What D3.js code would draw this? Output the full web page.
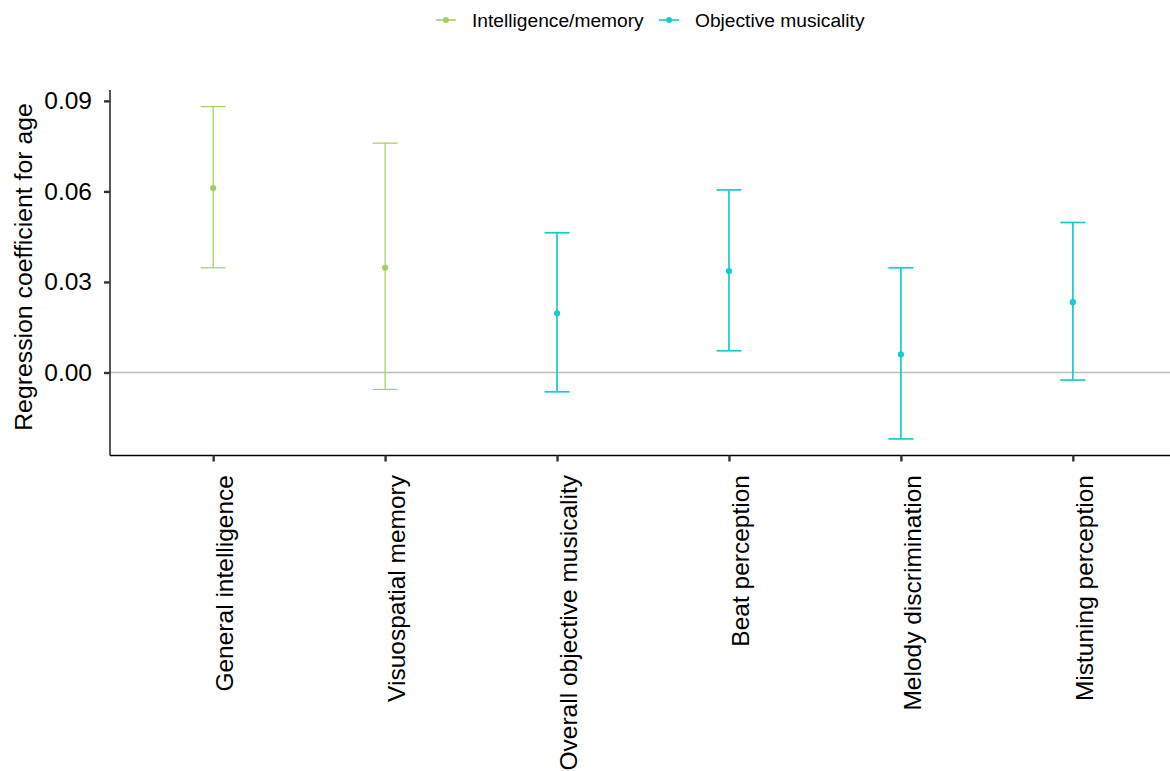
<!DOCTYPE html>
<html><head><meta charset="utf-8">
<script src="https://cdn.jsdelivr.net/npm/d3@7"></script>
<style>body{margin:0;background:#fff}svg{display:block}text{font-family:"Liberation Sans",Arial,sans-serif}</style>
</head><body><svg id="c" width="1170" height="771"></svg>
<script>
const categories = ["General intelligence","Visuospatial memory","Overall objective musicality","Beat perception","Melody discrimination","Mistuning perception"];
const groups = ["Intelligence/memory","Intelligence/memory","Objective musicality","Objective musicality","Objective musicality","Objective musicality"];
const estimates = [0.0611,0.0347,0.0196,0.0336,0.0060,0.0233];
const lowers = [0.0347,-0.0056,-0.0064,0.0072,-0.0220,-0.0025];
const uppers = [0.0881,0.0760,0.0463,0.0605,0.0347,0.0497];
const yTicks = [0,0.03,0.06,0.09];
const legendItems = ["Intelligence/memory","Objective musicality"];
const colors = ["#a3cf5e","#16cbd0"];

(function(){
const data = categories.map((c,i)=>({c, g:groups[i], est:estimates[i], lo:lowers[i], hi:uppers[i]}));
const svg = d3.select("#c");
const pL=110, pR=1170, pT=90, pB=455.5;
const FS = 24.5;
const x = d3.scalePoint().domain(categories).range([pL,1176]).padding(0.6);
const y = d3.scaleLinear().domain([-0.0275,0.0936]).range([pB,pT]);
const col = d3.scaleOrdinal().domain(legendItems).range(colors);

svg.append("line").attr("x1",pL).attr("x2",pR).attr("y1",y(0)).attr("y2",y(0))
  .attr("stroke","#bdbdbd").attr("stroke-width",1.5);

const eb = svg.append("g").selectAll("g").data(data).join("g");
const sw = d=>d.g==="Intelligence/memory"?1.2:1.7;
eb.append("line").attr("x1",d=>x(d.c)).attr("x2",d=>x(d.c)).attr("y1",d=>y(d.lo)).attr("y2",d=>y(d.hi))
  .attr("stroke",d=>col(d.g)).attr("stroke-width",sw);
["lo","hi"].forEach(k=>{
  eb.append("line").attr("x1",d=>x(d.c)-12.5).attr("x2",d=>x(d.c)+12.5).attr("y1",d=>y(d[k])).attr("y2",d=>y(d[k]))
    .attr("stroke",d=>col(d.g)).attr("stroke-width",sw);
});
eb.append("circle").attr("cx",d=>x(d.c)).attr("cy",d=>y(d.est)).attr("r",3.1).attr("fill",d=>col(d.g));

const ya = svg.append("g").attr("transform",`translate(${pL},0)`)
  .call(d3.axisLeft(y).tickValues(yTicks).tickFormat(d3.format(".2f")).tickSize(6).tickPadding(12));
ya.select(".domain").attr("stroke","#000").attr("stroke-width",1.3).attr("d",`M0,${pT}V${pB}`);
ya.selectAll(".tick line").attr("stroke","#333").attr("stroke-width",2.4);
ya.selectAll(".tick text").attr("font-size",FS).attr("fill","#000").attr("font-family","Liberation Sans, Arial, sans-serif");

const xa = svg.append("g").attr("transform",`translate(0,${pB})`)
  .call(d3.axisBottom(x).tickSize(6).tickPadding(0));
xa.select(".domain").attr("stroke","#000").attr("stroke-width",1.3).attr("d",`M${pL},0H${pR}`);
xa.selectAll(".tick line").attr("stroke","#333").attr("stroke-width",2.4);
xa.selectAll(".tick text").attr("font-size",FS).attr("fill","#000").attr("font-family","Liberation Sans, Arial, sans-serif")
  .attr("transform","rotate(-90)").attr("text-anchor","end").attr("x",-19.5).attr("y",19.3).attr("dy",0);

svg.append("text").attr("transform",`translate(32,267) rotate(-90)`)
  .attr("text-anchor","middle").attr("font-size",FS+0.3).text("Regression coefficient for age");

const lx = [436, 659];
legendItems.forEach((t,i)=>{
  const g = svg.append("g").attr("transform",`translate(${lx[i]},20)`);
  g.append("line").attr("x1",0).attr("x2",20).attr("y1",0).attr("y2",0).attr("stroke",col(t)).attr("stroke-width",1.6);
  g.append("circle").attr("cx",10).attr("cy",0).attr("r",3).attr("fill",col(t));
  g.append("text").attr("x",36).attr("y",6.8).attr("font-size",19.2).text(t);
});
})();
</script></body></html>
